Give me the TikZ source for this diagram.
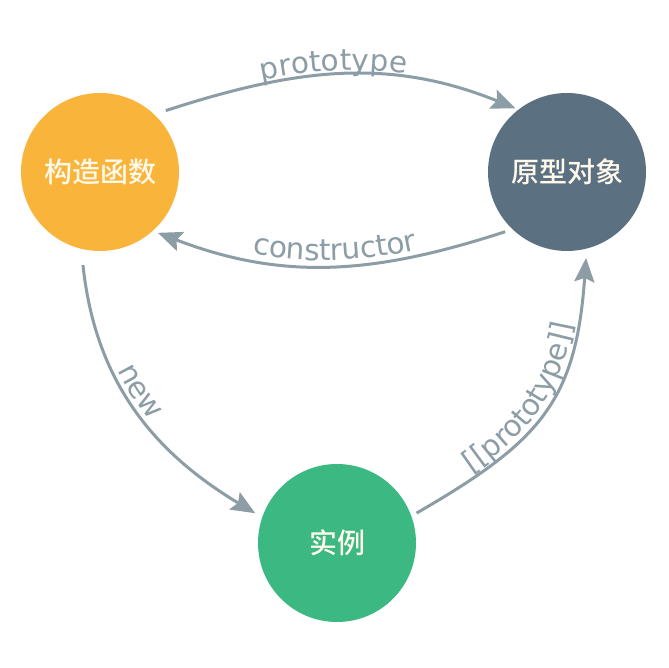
\documentclass[tikz,border=0pt]{standalone}
\usepackage{fontspec}
\newfontfamily\cjk{Noto Sans CJK SC Medium}
\newfontfamily\labfont{DejaVu Sans}
\usetikzlibrary{arrows.meta,decorations.text,calc}
\definecolor{corange}{HTML}{F9B53B}
\definecolor{cslate}{HTML}{5B7081}
\definecolor{cgreen}{HTML}{3CB882}
\definecolor{agray}{HTML}{8C9DA6}
\definecolor{ctext}{HTML}{FFF9EC}
\begin{document}
\begin{tikzpicture}[x=1pt,y=1pt,
  ball/.style={circle, minimum size=158pt, inner sep=0pt, text=ctext,
    font=\cjk\fontsize{28}{28}\selectfont},
  conn/.style={draw=agray, line width=3pt,
    -{Stealth[length=24pt,width=20pt,inset=4pt]}},
  lblbase/.style={decorate, decoration={text along path, text color=agray}},
]
\fill[white] (0,0) rectangle (668,668);
\useasboundingbox (0,0) rectangle (668,668);

\node[ball, fill=corange] (A) at (100,496) {构造函数};
\node[ball, fill=cslate]  (B) at (567,496) {原型对象};
\node[ball, fill=cgreen]  (C) at (337,125) {实例};

\coordinate (p1s) at ($(A)+(43:90)$);
\coordinate (p1e) at ($(B)+(129:82)$);
\coordinate (c1s) at ($(B)+(224:86)$);
\coordinate (c1e) at ($(A)+(-46.4:84)$);
\coordinate (n1s) at ($(A)+(259.6:94.5)$);
\coordinate (n1e) at ($(C)+(160:87)$);
\coordinate (q1s) at ($(C)+(20.6:85)$);
\coordinate (q1e) at ($(B)+(282.5:88)$);

\draw[conn] (p1s) to[out=18,in=158] (p1e);
\draw[conn] (c1s) to[out=198,in=-21] (c1e);
\draw[conn] (n1s) to[out=276,in=149] (n1e);
\draw[conn] (q1s) to[out=30,in=266,looseness=1.2] (q1e);

\path[lblbase, decoration={raise=4pt, text align={center, right indent=14pt},
  text={|\labfont\fontsize{29.5}{30}\selectfont|prototype}}]
  (p1s) to[out=18,in=158] (p1e);
\path[lblbase, decoration={raise=6pt, text align={center, left indent=8pt},
  text={|\labfont\fontsize{29.5}{30}\selectfont|constructor}}]
  (c1e) to[out=-21,in=198] (c1s);
\path[lblbase, decoration={raise=5pt, text align={center, right indent=30pt},
  text={|\labfont\fontsize{29.5}{30}\selectfont|new}}]
  (n1s) to[out=276,in=149] (n1e);
\path[lblbase, decoration={raise=5pt, text align={center},
  text={|\labfont\fontsize{29.5}{30}\selectfont|[[prototype]]}}]
  (q1s) to[out=30,in=266,looseness=1.2] (q1e);
\end{tikzpicture}
\end{document}
